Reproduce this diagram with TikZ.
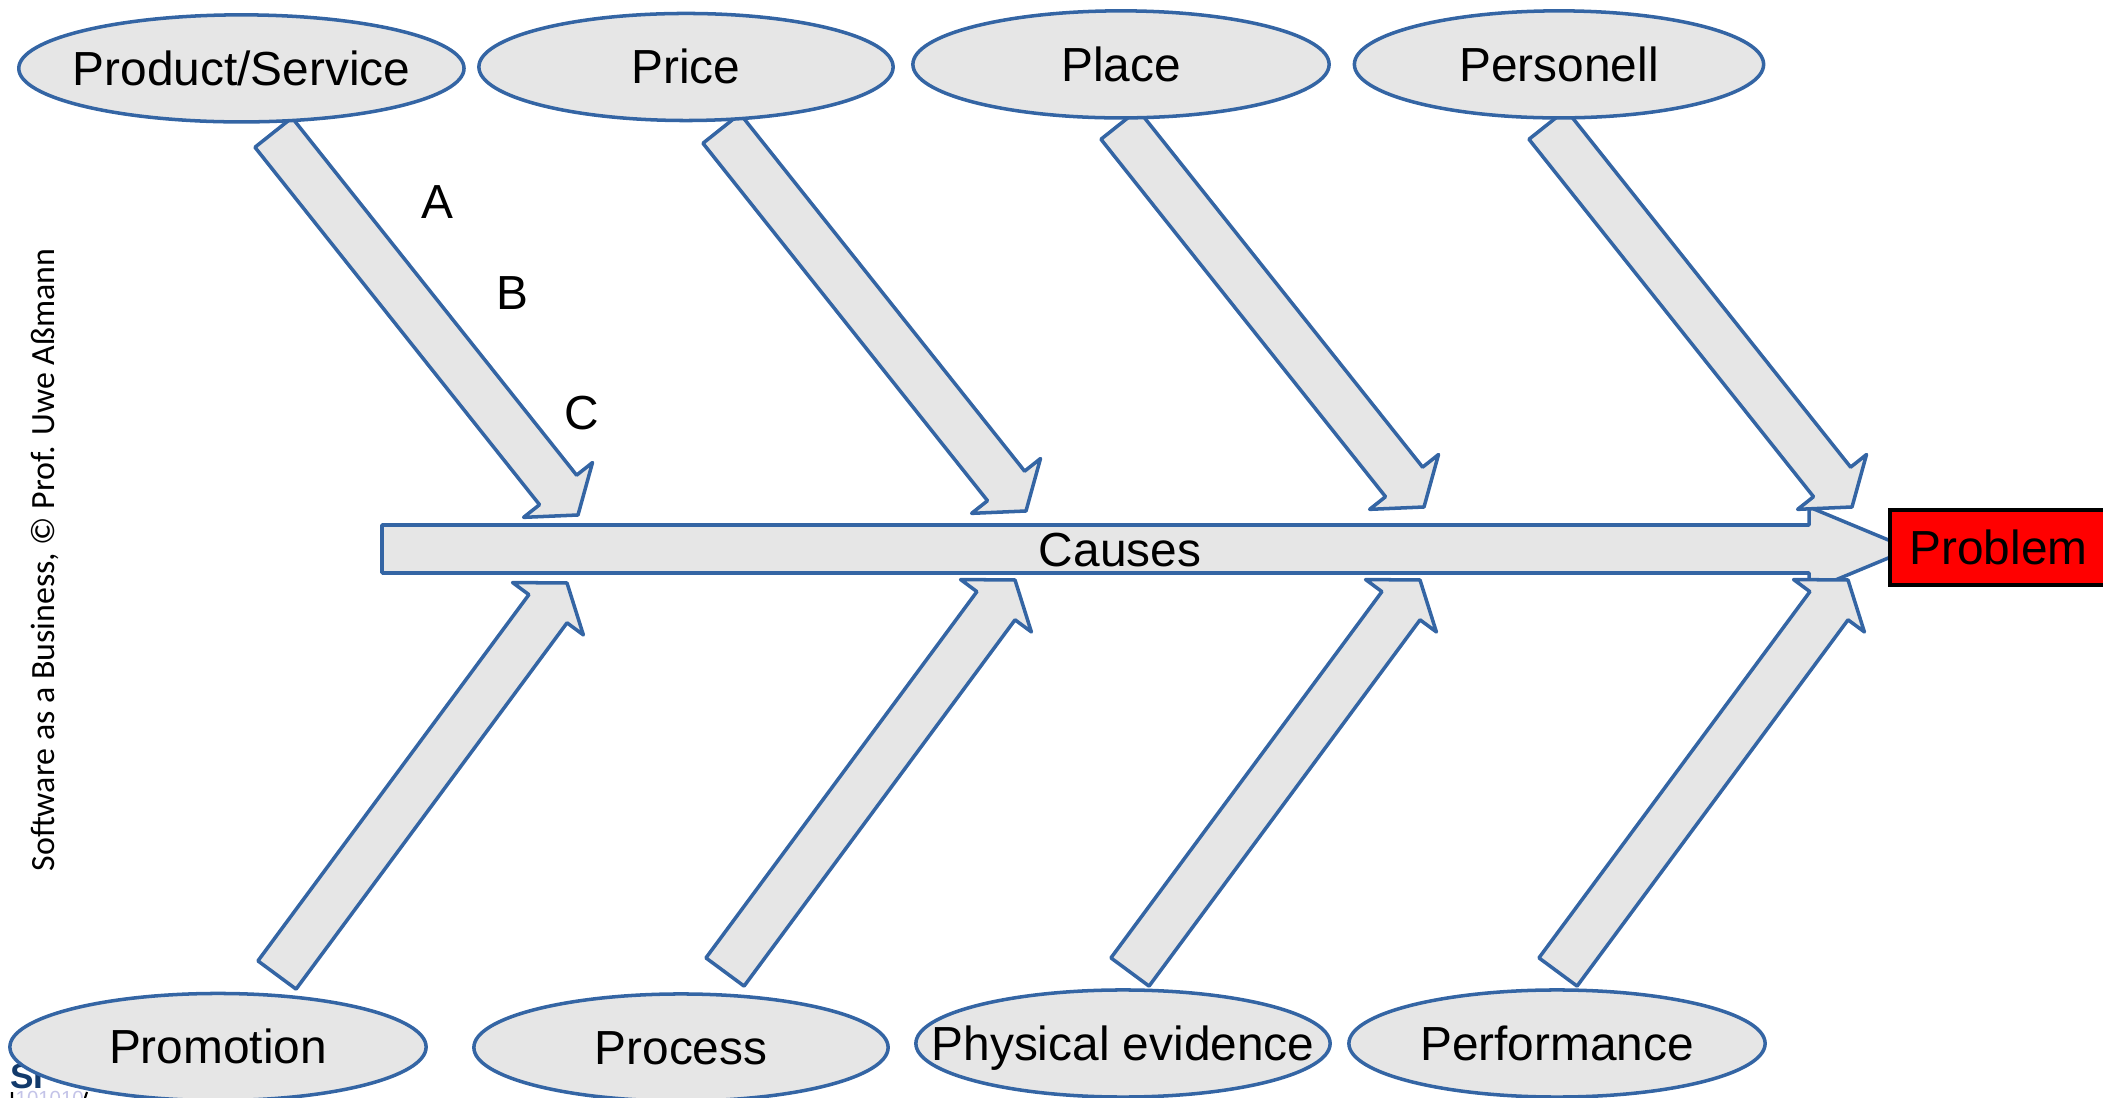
\documentclass[tikz,border=0pt]{standalone}
\usepackage{fontspec}
\setmainfont{Liberation Sans}
\newfontfamily\sidefont{Carlito}
\usetikzlibrary{calc,shapes.geometric}
\definecolor{boneline}{HTML}{3465A4}
\definecolor{bonefill}{HTML}{E6E6E6}
\definecolor{logoblue}{HTML}{123A6B}
\definecolor{logolight}{HTML}{C4C4E8}
\tikzset{
  bonestyle/.style={draw=boneline,fill=bonefill,line width=1pt,line join=round},
  cause/.style={ellipse,bonestyle,inner sep=0pt,minimum height=1.07cm,text height=10pt,text depth=0.4pt,
    font=\fontsize{13.6}{16}\selectfont,execute at begin node=\hbox to 0pt\bgroup\hss,execute at end node=\hss\egroup},
  letter/.style={inner sep=0pt,font=\fontsize{13.6}{16}\selectfont}
}
% block arrow from tail to tip
\newcommand{\bone}[2]{
  \coordinate (base) at ($(#2)!0.32cm!(#1)$);
  \draw[bonestyle] ($(#1)!0.237cm!90:(#2)$) -- ($(base)!0.237cm!90:(#2)$) -- ($(base)!0.44cm!90:(#2)$) -- (#2)
    -- ($(base)!0.44cm!-90:(#2)$) -- ($(base)!0.237cm!-90:(#2)$) -- ($(#1)!0.237cm!-90:(#2)$) -- cycle;
}
\begin{document}
\begin{tikzpicture}[x=0.01cm,y=-0.01cm]
\useasboundingbox (0,0) rectangle (2103,1098);

% logo under the ellipse
\node (logo) [inner sep=0pt,anchor=north west,text=logolight] at (15,1091) {\fontsize{5.8}{7}\selectfont 101010};
\node (si) [inner sep=0pt,text=logoblue] at (27,1076) {\fontsize{10}{11}\selectfont\textbf{SI}};
\draw[black,line width=0.6pt] (12,1092) -- (12,1098) (87,1092) -- (85,1098);

\node (side) [rotate=90,inner sep=0pt] at (45,560) {\sidefont\fontsize{9.65}{12}\selectfont Software as a Business, © Prof. Uwe Aßmann};

% spine
\draw[bonestyle] (382,525) -- (1809,525) -- (1809,507) -- (1910,549) -- (1809,591) -- (1809,573) -- (382,573) -- cycle;
\node (causes) [letter] at (1120,550) {Causes};

% upper and lower arrows
\foreach \n/\dx/\dy in {product/0/0,price/448/-4,place/846/-8,personell/1274/-8} {
  \coordinate (\n tail) at (273.5+\dx,132.5+\dy);
  \coordinate (\n tip) at (578+\dx,515+\dy);
  \bone{\n tail}{\n tip}
}
\foreach \n/\dx/\dy in {promotion/0/0,process/448/-3,physical/853/-3,performance/1281/-3} {
  \coordinate (\n tail) at (277+\dx,975+\dy);
  \coordinate (\n tip) at (567+\dx,583+\dy);
  \bone{\n tail}{\n tip}
}

\node (product) [cause,minimum width=4.45cm] at (241.4,68.4) {Product/Service};
\node (price) [cause,minimum width=4.14cm] at (686,67) {Price};
\node (place) [cause,minimum width=4.16cm] at (1121,64.4) {Place};
\node (personell) [cause,minimum width=4.09cm] at (1559,64.4) {Personell};
\node (promotion) [cause,minimum width=4.16cm] at (218,1047) {Promotion};
\node (process) [cause,minimum width=4.14cm] at (681,1047.5) {Process};
\node (physical) [cause,minimum width=4.14cm] at (1123,1043.5) {Physical evidence};
\node (performance) [cause,minimum width=4.16cm] at (1557,1043.5) {Performance};

\node (a) [letter] at (437,202) {A};
\node (b) [letter] at (512,293) {B};
\node (c) [letter] at (582,413) {C};

\node (problem) [draw=black,fill=red,line width=1.05pt,minimum width=2.17cm,minimum height=0.75cm,inner sep=0pt,font=\fontsize{13.6}{16}\selectfont] at (1998.5,547.5) {Problem};
\end{tikzpicture}
\end{document}
